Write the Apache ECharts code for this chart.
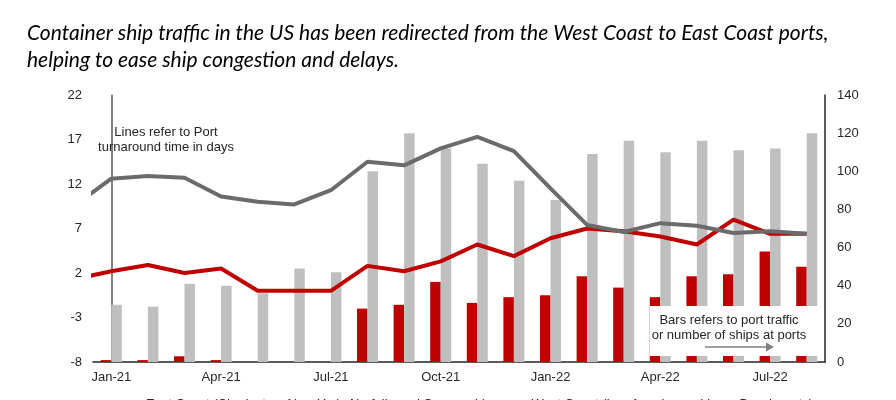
<!DOCTYPE html>
<html>
<head>
<meta charset="utf-8">
<script src="https://cdn.jsdelivr.net/npm/echarts@6/dist/echarts.min.js"></script>
<style>
  html, body { margin: 0; padding: 0; background: #fff; }
  #chart { width: 896px; height: 400px; }
</style>
</head>
<body>
<div id="chart"></div>
<script>
// months shown on the axis (bars)
var months = ['Jan-21','Feb-21','Mar-21','Apr-21','May-21','Jun-21','Jul-21','Aug-21','Sep-21','Oct-21','Nov-21','Dec-21',
              'Jan-22','Feb-22','Mar-22','Apr-22','May-22','Jun-22','Jul-22','Aug-22'];

// number of ships at ports (right axis)
var eastShips = [1, 1, 3, 1, 0, 0, 0, 28, 30, 42, 31, 34, 35, 45, 39, 34, 45, 46, 58, 50];
var westShips = [30, 29, 41, 40, 36, 49, 47, 100, 120, 112, 104, 95, 85, 109, 116, 110, 116, 111, 112, 120];

// port turnaround time in days (left axis), Dec-20 .. Aug-22, first point sits left of the plot
var eastDays = [1.3, 2.2, 2.9, 2.0, 2.5, 0.0, 0.0, 0.0, 2.8, 2.2, 3.3, 5.2, 3.9, 5.9, 7.0, 6.7, 6.1, 5.2, 8.0, 6.4, 6.4];
var westDays = [9.6, 12.6, 12.9, 12.7, 10.6, 10.0, 9.7, 11.3, 14.5, 14.1, 16.0, 17.3, 15.7, 11.5, 7.4, 6.6, 7.6, 7.3, 6.5, 6.7, 6.4];

var eastName = 'East Coast (Charleston, New York, Norfolk, and Savannah)';
var westName = 'West Coast (Los Angeles and Long Beach ports)';

function asPoints(arr) {
  return arr.map(function (v, i) { return [i - 1, v]; });
}

var chart = echarts.init(document.getElementById('chart'));
var labelFont = { color: '#262626', fontFamily: '"Liberation Sans", Arial, sans-serif', fontSize: 13 };

chart.setOption({
  animation: false,
  title: {
    text: 'Container ship traffic in the US has been redirected from the West Coast to East Coast ports,\nhelping to ease ship congestion and delays.',
    left: 22, top: 15,
    textStyle: { fontFamily: 'Lato, sans-serif', fontStyle: 'italic', fontWeight: 'normal', fontSize: 21, lineHeight: 27, color: '#000' }
  },
  legend: {
    top: 393, left: 130,
    itemWidth: 6, itemHeight: 3, itemGap: 34,
    textStyle: labelFont,
    data: [{ name: eastName, icon: 'rect' }, { name: westName, icon: 'rect' }]
  },
  grid: { left: 93, right: 71, top: 95, bottom: 38 },
  xAxis: [{
    type: 'category',
    data: months,
    boundaryGap: true,
    axisLine: { onZero: false, lineStyle: { color: '#262626', width: 1.5 } },
    axisTick: { show: false },
    axisLabel: Object.assign({ interval: 2, margin: 9 }, labelFont)
  }, {
    type: 'value', min: -0.5, max: 19.5, show: false
  }],
  yAxis: [{
    type: 'value', min: -8, max: 22, interval: 5,
    splitLine: { show: false },
    axisLine: { show: true, lineStyle: { color: '#595959', width: 1.5 } },
    axisTick: { show: false },
    axisLabel: Object.assign({ margin: 11 }, labelFont)
  }, {
    type: 'value', min: 0, max: 140, interval: 20,
    splitLine: { show: false },
    axisLine: { show: true, lineStyle: { color: '#262626', width: 1.5 } },
    axisTick: { show: false },
    axisLabel: Object.assign({ margin: 12 }, labelFont)
  }],
  series: [{
    name: eastName, type: 'bar', xAxisIndex: 0, yAxisIndex: 1,
    data: eastShips, barWidth: 10.5, barGap: '0%',
    itemStyle: { color: '#C00000' }
  }, {
    name: westName, type: 'bar', xAxisIndex: 0, yAxisIndex: 1,
    data: westShips, barWidth: 10.5, barGap: '0%',
    itemStyle: { color: '#BFBFBF' }
  }, {
    name: eastName, type: 'line', xAxisIndex: 1, yAxisIndex: 0,
    data: asPoints(eastDays), showSymbol: false, z: 5,
    lineStyle: { color: '#C00000', width: 4 }, itemStyle: { color: '#C00000' }
  }, {
    name: westName, type: 'line', xAxisIndex: 1, yAxisIndex: 0,
    data: asPoints(westDays), showSymbol: false, z: 5,
    lineStyle: { color: '#6B6B6B', width: 4 }, itemStyle: { color: '#6B6B6B' }
  }],
  graphic: [{
    type: 'text', z: 100, x: 166, y: 125,
    style: { text: 'Lines refer to Port\nturnaround time in days', align: 'center', fill: '#262626',
             font: '13px "Liberation Sans", Arial, sans-serif', lineHeight: 15 }
  }, {
    type: 'rect', z: 100,
    shape: { x: 650, y: 306, width: 169, height: 50 },
    style: { fill: '#fff' }
  }, {
    type: 'text', z: 101, x: 729, y: 313,
    style: { text: 'Bars refers to port traffic\nor number of ships at ports', align: 'center', fill: '#262626',
             font: '13px "Liberation Sans", Arial, sans-serif', lineHeight: 15 }
  }, {
    type: 'line', z: 101,
    shape: { x1: 705, y1: 347, x2: 767, y2: 347 },
    style: { stroke: '#808080', lineWidth: 1.5 }
  }, {
    type: 'polygon', z: 101,
    shape: { points: [[766, 342.5], [774, 347], [766, 351.5]] },
    style: { fill: '#808080' }
  }]
});
</script>
</body>
</html>
